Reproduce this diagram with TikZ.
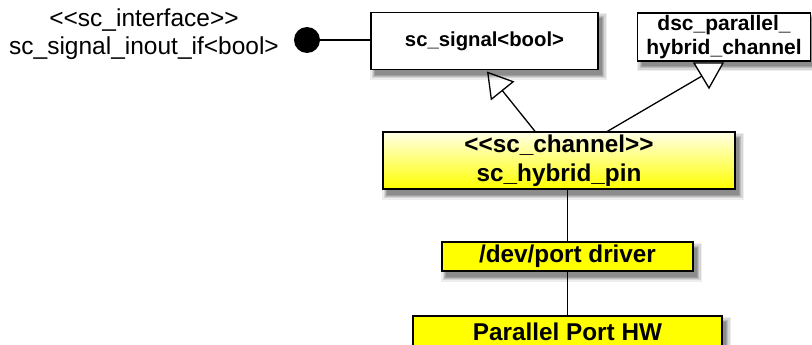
\documentclass[tikz,border=0pt]{standalone}
\usepackage{fontspec}
\setmainfont{Liberation Sans}
\usetikzlibrary{arrows.meta,calc}

\definecolor{paleyellow}{RGB}{255,255,230}
\definecolor{pinyellow}{RGB}{255,255,0}
\definecolor{shadeA}{RGB}{238,238,238}
\definecolor{shadeB}{RGB}{214,214,214}
\definecolor{shadeC}{RGB}{188,188,188}
\definecolor{shadeD}{RGB}{160,160,160}
\definecolor{shadeE}{RGB}{140,140,140}

% guillemet-free angle brackets
\newcommand{\stl}{{<}{<}}
\newcommand{\stg}{{>}{>}}

\tikzset{
  shadowpiece/.style={draw=none, inner sep=0pt, outer sep=0pt},
  box/.style={draw=black, line width=1.4pt, inner sep=0pt, align=center,
    font=\bfseries, text=black},
  classbox/.style={box, fill=white},
  hybbox/.style={box, top color=paleyellow, bottom color=pinyellow},
  hwbox/.style={box, fill=pinyellow},
  link/.style={line width=1.3pt, draw=black},
  inherit/.style={link, -{Triangle[open, length=25pt, width=30pt, line width=1.3pt]}},
  lollipop/.style={circle, fill=black, minimum size=26pt, inner sep=0pt},
}

% soft drop shadow: centre x, centre y, width, height of the box it belongs to
\newcommand{\dropshadow}[4]{%
  \node[shadowpiece, fill=shadeA, minimum width=#3+10pt, minimum height=#4+10pt] at (#1+4,#2+5.5) {};
  \node[shadowpiece, fill=shadeB, minimum width=#3+7pt, minimum height=#4+7pt] at (#1+4,#2+5.5) {};
  \node[shadowpiece, fill=shadeC, minimum width=#3+4pt, minimum height=#4+4pt] at (#1+4,#2+5.5) {};
  \node[shadowpiece, fill=shadeD, minimum width=#3+2pt, minimum height=#4+2pt] at (#1+4,#2+5.5) {};
  \node[shadowpiece, fill=shadeE, minimum width=#3, minimum height=#4] at (#1+4,#2+5.5) {};
}

\begin{document}
\begin{tikzpicture}[x=1pt, y=-1pt]
  \useasboundingbox (0,0) rectangle (812,345);

  % shadows first, so the boxes cover them
  \dropshadow{484.5}{41}{227pt}{57pt}
  \dropshadow{724}{37}{173pt}{48pt}
  \dropshadow{559}{160.5}{352pt}{57pt}
  \dropshadow{567.5}{256.5}{251pt}{29pt}
  \dropshadow{567.5}{332}{309pt}{32pt}

  % interface label and its lollipop
  \node[align=center, font=\fontsize{24.5}{28}\selectfont] (iflabel) at (144,34)
    {\stl sc\_interface\stg\\sc\_signal\_inout\_if{<}bool{>}};
  \node[lollipop] (ball) at (307,40) {};

  % classes
  \node[classbox, minimum width=227pt, minimum height=57pt,
        font=\bfseries\fontsize{20.3}{24}\selectfont] (sig) at (484.5,41) {sc\_signal{<}bool{>}};
  \node[classbox, minimum width=173pt, minimum height=48pt,
        font=\bfseries\fontsize{21}{24.5}\selectfont] (dsc) at (724,37)
    {dsc\_parallel\_\\hybrid\_channel};
  \node[hybbox, minimum width=352pt, minimum height=57pt,
        font=\bfseries\fontsize{24.3}{28.5}\selectfont] (hyb) at (559,160.5)
    {\stl sc\_channel\stg\\sc\_hybrid\_pin};
  \node[hwbox, minimum width=251pt, minimum height=29pt,
        font=\bfseries\fontsize{24.3}{28}\selectfont] (dev) at (567.5,256.5) {/dev/port driver};
  \node[hwbox, minimum width=309pt, minimum height=32pt,
        font=\bfseries\fontsize{24.3}{28}\selectfont] (hw) at (567.5,332) {Parallel Port HW};

  % anchor points of the connectors
  \coordinate (tipA) at (487,71.5);
  \coordinate (tipB) at (702,76);
  \coordinate (triL) at (694,63);
  \coordinate (triR) at (723,63);
  \coordinate (triT) at (709,88);

  % interface realisation
  \draw[link] (ball) -- (sig.west |- ball);

  % generalisations
  \draw[inherit] ($(hyb.north)+(-24,0)$) -- (tipA);
  \draw[link] ($(hyb.north)+(48.5,0)$) -- (tipB);
  \draw[link, fill=white, line join=miter] (triL) -- (triR) -- (triT) -- cycle;

  % driver stack
  \draw[link] (dev.north |- hyb.south) -- (dev.north);
  \draw[link] (dev.south) -- (hw.north);
\end{tikzpicture}
\end{document}
